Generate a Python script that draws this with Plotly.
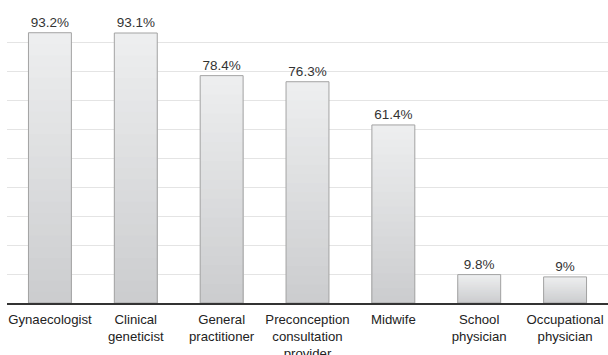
import plotly.graph_objects as go

categories = [
    "Gynaecologist",
    "Clinical<br>geneticist",
    "General<br>practitioner",
    "Preconception<br>consultation<br>provider",
    "Midwife",
    "School<br>physician",
    "Occupational<br>physician",
]
values = [93.2, 93.1, 78.4, 76.3, 61.4, 9.8, 9.0]
value_labels = ["93.2%", "93.1%", "78.4%", "76.3%", "61.4%", "9.8%", "9%"]

FONT = "Liberation Sans, Arial, sans-serif"

fig = go.Figure()

# Vertical shading: stacked overlays from the full bar down to its lower part,
# each a bit darker, so every bar fades from light at the top to grey at the base.
steps = 24
top_rgb = (237, 238, 239)
bot_rgb = (204, 205, 207)
for k in range(steps):
    frac = 1 - k / steps
    t = k / (steps - 1)
    r, g, b = (round(top_rgb[i] + (bot_rgb[i] - top_rgb[i]) * t) for i in range(3))
    fig.add_trace(go.Bar(
        x=categories,
        y=[v * frac for v in values],
        marker=dict(color=f"rgb({r},{g},{b})", line=dict(width=0)),
        hoverinfo="skip",
        showlegend=False,
    ))

# Outline and value labels
fig.add_trace(go.Bar(
    x=categories,
    y=values,
    marker=dict(color="rgba(0,0,0,0)", line=dict(color="#a3a3a3", width=1)),
    text=value_labels,
    textposition="outside",
    textfont=dict(family=FONT, size=13.5, color="#333333"),
    cliponaxis=False,
    showlegend=False,
))

fig.update_layout(
    width=608,
    height=355,
    margin=dict(l=7, r=0, t=13, b=52),
    barmode="overlay",
    bargap=0.5,
    plot_bgcolor="white",
    paper_bgcolor="white",
    font=dict(family=FONT, size=13, color="#222222"),
    xaxis=dict(
        automargin=False,
        showline=True,
        linecolor="#333333",
        linewidth=2,
        ticks="",
        ticklabelstandoff=3,
        tickfont=dict(family=FONT, size=13.2, color="#222222"),
        showgrid=False,
    ),
    yaxis=dict(
        automargin=False,
        range=[0, 100],
        dtick=10,
        showticklabels=False,
        showgrid=True,
        gridcolor="#e4e4e4",
        gridwidth=1,
        zeroline=False,
        showline=False,
    ),
)

fig.write_html("out.html")
